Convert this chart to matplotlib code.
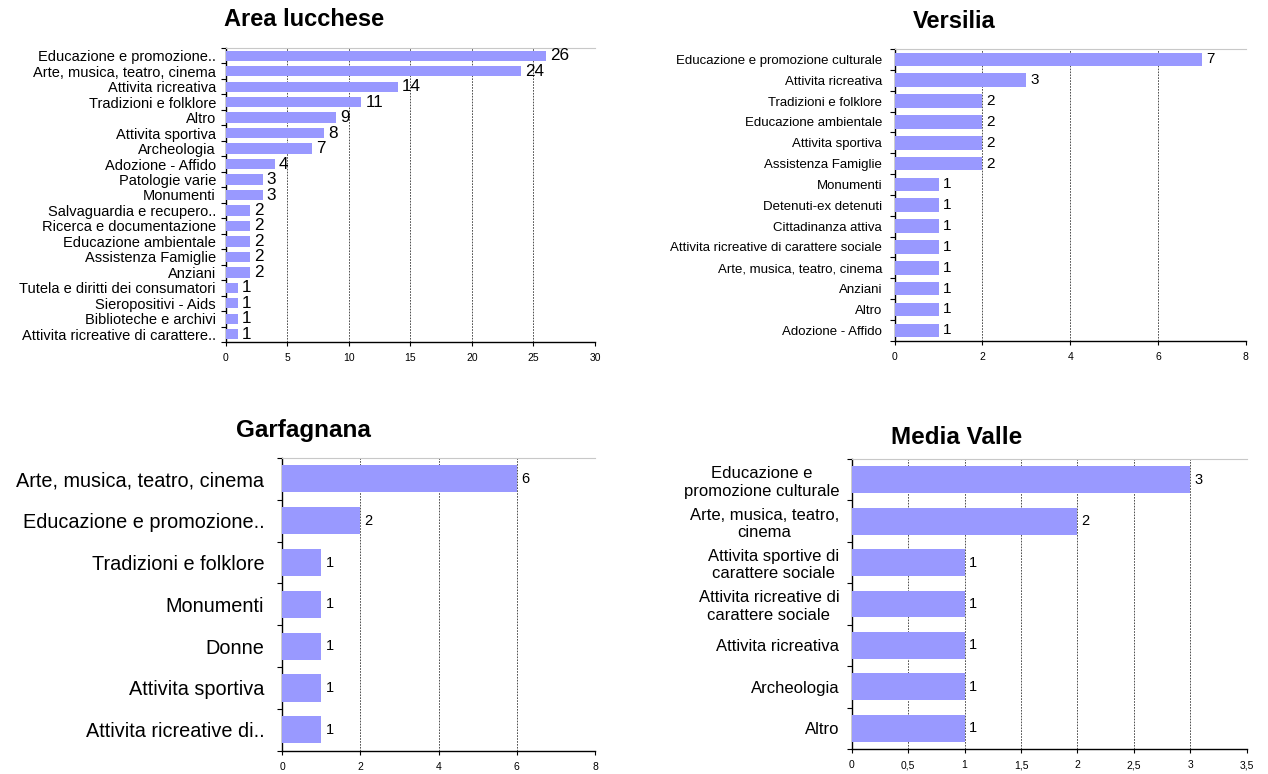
import numpy as np
import matplotlib
matplotlib.use('Agg')
import matplotlib.pyplot as plt

plt.rcParams['font.family'] = ['Liberation Sans', 'DejaVu Sans']

# data, top to bottom
lucca_labels = ['Educazione e promozione..', 'Arte, musica, teatro, cinema', 'Attivita ricreativa',
                'Tradizioni e folklore', 'Altro', 'Attivita sportiva', 'Archeologia',
                'Adozione - Affido', 'Patologie varie', 'Monumenti', 'Salvaguardia e recupero..',
                'Ricerca e documentazione', 'Educazione ambientale', 'Assistenza Famiglie',
                'Anziani', 'Tutela e diritti dei consumatori', 'Sieropositivi - Aids',
                'Biblioteche e archivi', 'Attivita ricreative di carattere..']
lucca_values = [26, 24, 14, 11, 9, 8, 7, 4, 3, 3, 2, 2, 2, 2, 2, 1, 1, 1, 1]

versilia_labels = ['Educazione e promozione culturale', 'Attivita ricreativa',
                   'Tradizioni e folklore', 'Educazione ambientale', 'Attivita sportiva',
                   'Assistenza Famiglie', 'Monumenti', 'Detenuti-ex detenuti',
                   'Cittadinanza attiva', 'Attivita ricreative di carattere sociale',
                   'Arte, musica, teatro, cinema', 'Anziani', 'Altro', 'Adozione - Affido']
versilia_values = [7, 3, 2, 2, 2, 2, 1, 1, 1, 1, 1, 1, 1, 1]

garf_labels = ['Arte, musica, teatro, cinema', 'Educazione e promozione..',
               'Tradizioni e folklore', 'Monumenti', 'Donne', 'Attivita sportiva',
               'Attivita ricreative di..']
garf_values = [6, 2, 1, 1, 1, 1, 1]

media_labels = ['Educazione e\npromozione culturale', 'Arte, musica, teatro,\ncinema',
                'Attivita sportive di\ncarattere sociale', 'Attivita ricreative di\ncarattere sociale',
                'Attivita ricreativa', 'Archeologia', 'Altro']
media_values = [3, 2, 1, 1, 1, 1, 1]

W, H = 1268, 774
fig = plt.figure(figsize=(W / 100, H / 100), dpi=100)
fig.patch.set_facecolor('white')

BAR = '#9999ff'


def panel(box, labels, values, xmax, xstep, label_fs, value_fs, bar_h, pad, xfmt=None):
    l, r, t, b = box
    ax = fig.add_axes([l / W, 1 - b / H, (r - l) / W, (b - t) / H])
    n = len(labels)
    y = np.arange(n)
    ax.barh(y, values, height=bar_h, color=BAR, edgecolor='none', zorder=3)
    for yi, v in zip(y, values):
        ax.annotate(str(v), (v, yi), xytext=(3, 0), textcoords='offset points',
                    va='center', ha='left', fontsize=value_fs, zorder=4)
    ax.set_ylim(n - 0.5, -0.5)
    ax.set_xlim(0, xmax)
    ticks = np.arange(0, xmax + xstep / 2, xstep)
    ax.set_xticks(ticks)
    if xfmt:
        ax.set_xticklabels([xfmt(v) for v in ticks])
    ax.set_yticks(y)
    ax.set_yticklabels(labels, fontsize=label_fs, multialignment='center')
    ax.set_yticks(np.arange(n + 1) - 0.5, minor=True)
    ax.tick_params(axis='y', which='major', length=0, pad=pad)
    ax.tick_params(axis='y', which='minor', length=3.5, width=0.8, direction='out')
    ax.tick_params(axis='x', length=3, width=0.8, labelsize=7.5, pad=5)
    ax.xaxis.grid(True, color='#333333', linestyle=(0, (2, 1.5)), linewidth=0.6, zorder=0)
    ax.set_axisbelow(True)
    for s in ['left', 'bottom']:
        ax.spines[s].set_linewidth(1.0)
    ax.spines['right'].set_visible(False)
    ax.spines['top'].set_color('#c8c8c8')
    ax.spines['top'].set_linewidth(0.8)
    return ax


panel((225.7, 595, 48, 342), lucca_labels, lucca_values, 30, 5, 10.5, 12.3, 0.67, 7)
panel((894.7, 1245.7, 49, 340.7), versilia_labels, versilia_values, 8, 2, 9.5, 11, 0.65, 9)
panel((282.3, 595, 458, 750.7), garf_labels, garf_values, 8, 2, 14.3, 10.5, 0.65, 13)
panel((851.7, 1246.7, 459, 749), media_labels, media_values, 3.5, 0.5, 12, 10.5, 0.65, 9,
      xfmt=lambda v: ('%g' % v).replace('.', ','))

fig.text(304 / W, 1 - 20 / H, 'Area lucchese', ha='center', va='center', fontsize=17, fontweight='bold')
fig.text(954 / W, 1 - 22 / H, 'Versilia', ha='center', va='center', fontsize=17, fontweight='bold')
fig.text(303 / W, 1 - 430 / H, 'Garfagnana', ha='center', va='center', fontsize=17.5, fontweight='bold')
fig.text(957 / W, 1 - 437 / H, 'Media Valle', ha='center', va='center', fontsize=17.5, fontweight='bold')

fig.savefig('out.png', dpi=100)
